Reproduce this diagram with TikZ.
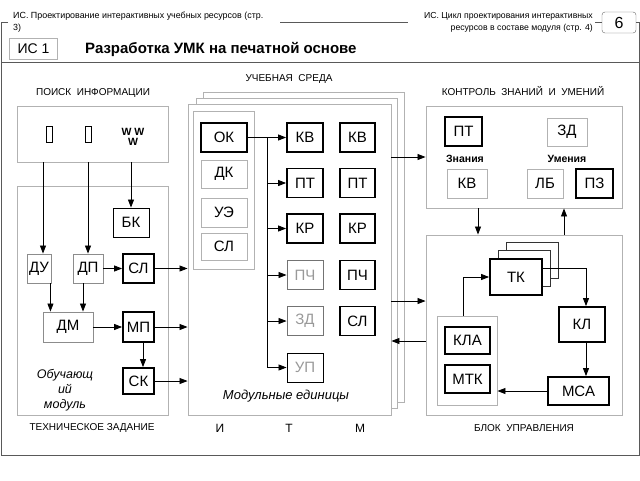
\documentclass[tikz,border=0pt]{standalone}
\usepackage{fontspec}
\setmainfont{Liberation Sans}
\usetikzlibrary{arrows.meta}

\begin{document}
\begin{tikzpicture}[x=1pt,y=-1pt,
	box/.style={draw,inner sep=0pt,minimum height=29pt,font=\fontsize{15}{15}\selectfont},
	hard/.style={box,line width=1.8pt},
	fine/.style={box,line width=0.9pt},
	soft/.style={box,draw=black!30,line width=0.9pt},
	dim/.style={text=black!40},
	pane/.style={draw=black!30,inner sep=0pt,line width=0.9pt},
	sheet/.style={draw=black!30,fill=white,inner sep=0pt,line width=0.9pt},
	arr/.style={-{Triangle[length=8pt,width=6pt]},line width=0.8pt},
	head/.style={font=\fontsize{10}{10}\selectfont},
	frame/.style={draw=black!65,line width=0.9pt}]
	\useasboundingbox (0,0) rectangle (640,480);
	
	%HEADER
	\draw[frame] (8,22) -- (1,22) -- (1,455) -- (639,455) -- (639,22) -- (636,22);
	\draw[frame] (280,22) -- (408,22);
	\draw[frame] (595,22) -- (602,22);
	\draw[frame] (1,62) -- (639,62);
	\node[anchor=north west,align=left,inner sep=0pt,font=\fontsize{8.9}{12}\selectfont] (hl) at (13,12) {ИС. Проектирование интерактивных учебных ресурсов (стр.\\3)};
	\node[anchor=north east,align=right,inner sep=0pt,font=\fontsize{8.7}{12}\selectfont] (hr) at (593,12) {ИС. Цикл проектирования интерактивных\\ресурсов в составе модуля (стр. 4)};
	\node[draw=black!60,rounded corners=3pt,minimum width=34pt,minimum height=21pt,inner sep=0pt,font=\fontsize{16}{16}\selectfont] (pg) at (619,22.5) {6};
	\node[pane,minimum width=48pt,minimum height=21pt,font=\fontsize{14}{14}\selectfont] (is) at (33.5,48.5) {ИС 1};
	\node[anchor=west,inner sep=0pt,font=\bfseries\fontsize{15}{15}\selectfont] (ttl) at (85,49) {Разработка УМК на печатной основе};
	
	%SEARCH AND TASK
	\node[head] (srcht) at (93,93) {ПОИСК\ \ ИНФОРМАЦИИ};
	\node[pane,minimum width=151pt,minimum height=56pt] (srch) at (92.5,134) {};
	\node[draw,line width=0.8pt,minimum width=6pt,minimum height=16pt,inner sep=0pt] (ic1) at (49,134) {};
	\node[draw,line width=0.8pt,minimum width=6pt,minimum height=16pt,inner sep=0pt] (ic2) at (88,134) {};
	\node[align=center,inner sep=0pt,font=\bfseries\fontsize{10.5}{10}\selectfont] (www) at (133,137) {W W\\W};
	\node[pane,minimum width=151pt,minimum height=229pt] (tz) at (92.5,300.5) {};
	\node[fine,minimum width=36pt] (bk) at (131,222.5) {БК};
	\node[soft,draw=black!45,minimum width=24pt] (du) at (39,268.5) {ДУ};
	\node[soft,draw=black!45,minimum width=30pt] (dp) at (88,268.5) {ДП};
	\node[hard,minimum width=31pt] (sl1) at (138.5,268.5) {СЛ};
	\node[soft,draw=black!45,minimum width=50pt,minimum height=30pt] (dm) at (68,327) {ДМ};
	\node[hard,minimum width=31pt,minimum height=30pt] (mp) at (138.5,327) {МП};
	\node[hard,minimum width=31pt,minimum height=26pt] (sk) at (138.5,381) {СК};
	\node[align=center,font=\itshape\fontsize{12.5}{15}\selectfont] (om) at (65,390) {Обучающ\\ий\\модуль};
	\draw[arr] ([xshift=4pt]du.north |- srch.south) -- ([xshift=4pt]du.north);
	\draw[arr] (dp.north |- srch.south) -- (dp.north);
	\draw[arr] (bk.north |- srch.south) -- (bk.north);
	\draw[arr] ([xshift=-1pt]du.south east) -- ([xshift=-1pt]du.south east |- dm.north);
	\draw[arr] ([xshift=-5pt]dp.south) -- ([xshift=-5pt]dp.south |- dm.north);
	\draw[arr] (dp.east) -- (sl1.west);
	\draw[arr] (dm.east) -- (mp.west);
	\draw[arr] ([xshift=4.5pt]mp.south) -- ([xshift=4.5pt]mp.south |- sk.north);
	
	%LEARNING ENVIRONMENT
	\node[head] (ust) at (289,79) {УЧЕБНАЯ\ \ СРЕДА};
	\node[sheet,minimum width=201pt,minimum height=310pt] (back) at (303.5,247) {};
	\node[sheet,minimum width=201pt,minimum height=310pt] (mid) at (296.5,253) {};
	\node[sheet,minimum width=203pt,minimum height=311pt] (front) at (289.5,259.5) {};
	\node[pane,minimum width=61pt,minimum height=158pt] (col) at (223.5,190) {};
	\node[hard,minimum width=46pt] (ok) at (224,137.5) {ОК};
	\node[soft,minimum width=46pt,minimum height=28pt] (dk) at (224,174) {ДК};
	\node[soft,minimum width=46pt] (ue) at (224,212.5) {УЭ};
	\node[soft,minimum width=46pt,minimum height=27pt] (sl2) at (224,246.5) {СЛ};
	\node[hard,minimum width=36pt] (kv1) at (305,137.5) {КВ};
	\node[hard,minimum width=36pt] (pt1) at (305,183) {ПТ};
	\node[hard,minimum width=36pt] (kr1) at (305,228.5) {КР};
	\node[soft,draw=black!55,dim,minimum width=36pt] (pch1) at (305,275) {ПЧ};
	\node[soft,draw=black!55,dim,minimum width=36pt] (zd1) at (305,321) {ЗД};
	\node[fine,dim,minimum width=36pt] (up1) at (305,367.5) {УП};
	\node[fine,line width=1.2pt,minimum width=35pt] (kv2) at (357.5,137.5) {КВ};
	\node[fine,line width=1.2pt,minimum width=35pt] (pt2) at (357.5,183) {ПТ};
	\node[fine,line width=1.2pt,minimum width=35pt] (kr2) at (357.5,228.5) {КР};
	\node[fine,line width=1.6pt,minimum width=35pt] (pch2) at (357.5,275) {ПЧ};
	\node[fine,line width=1.6pt,minimum width=35pt] (sl3) at (357.5,321) {СЛ};
	\node[font=\itshape\fontsize{13}{13}\selectfont] (me) at (286,396) {Модульные единицы};
	\coordinate (fork) at (267,137.5);
	\draw[line width=1pt] (ok.east) -- (fork) -- (fork |- up1.west);
	\foreach \n in {kv1,pt1,kr1,pch1,zd1,up1}
		\draw[arr] (fork |- \n.west) -- (\n.west);
	\draw[arr] (sl1.east) -- (sl1.east -| front.west);
	\draw[arr] (mp.east) -- (mp.east -| front.west);
	\draw[arr] (sk.east) -- (sk.east -| front.west);
	
	%CONTROL
	\node[head] (kzt) at (523,91) {КОНТРОЛЬ\ \ ЗНАНИЙ\ \ И\ \ УМЕНИЙ};
	\node[pane,minimum width=196pt,minimum height=102pt] (ctrl) at (524,157) {};
	\node[hard,minimum width=37pt] (pt3) at (463.5,131.5) {ПТ};
	\node[soft,minimum width=40pt,minimum height=28pt] (zd3) at (567,132) {ЗД};
	\node[font=\bfseries\fontsize{10.5}{10}\selectfont] (zn) at (465,159) {Знания};
	\node[font=\bfseries\fontsize{10.5}{10}\selectfont] (um) at (567,159) {Умения};
	\node[soft,minimum width=40pt] (kv3) at (467,183.5) {КВ};
	\node[soft,minimum width=36pt] (lb) at (545,183.5) {ЛБ};
	\node[hard,minimum width=37pt] (pz) at (594.5,183.5) {ПЗ};
	
	%CONTROL BLOCK
	\node[pane,minimum width=196pt,minimum height=180pt] (blk) at (524,325) {};
	\node[sheet,draw=black!80,minimum width=52pt,minimum height=36pt] (tkb) at (532,260) {};
	\node[sheet,draw=black!80,minimum width=52pt,minimum height=36pt] (tkm) at (524,268.5) {};
	\node[hard,fill=white,minimum width=52pt,minimum height=36pt] (tk) at (516,277) {ТК};
	\node[hard,minimum width=46pt,minimum height=35pt] (kl) at (582,324.5) {КЛ};
	\node[hard,minimum width=61pt,minimum height=28pt] (msa) at (578.5,391) {МСА};
	\node[pane,minimum width=60pt,minimum height=89pt] (cont) at (467,360.5) {};
	\node[hard,minimum width=45pt,minimum height=27pt] (kla) at (467.5,340.5) {КЛА};
	\node[hard,minimum width=45pt,minimum height=28pt] (mtk) at (467.5,379) {МТК};
	\draw[arr] ([xshift=-4pt]cont.north) |- (tk.west);
	\draw[arr] ([yshift=9pt]tk.east) -| ([xshift=4pt]kl.north);
	\draw[arr] ([xshift=4pt]kl.south) -- ([xshift=4pt]kl.south |- msa.north);
	\draw[arr] (msa.west) -- (msa.west -| cont.east);
	\node[head] (bu) at (524,428) {БЛОК\ \ УПРАВЛЕНИЯ};
	
	%LINKS
	\draw[arr] (front.east |- ctrl.west) -- (ctrl.west);
	\draw[arr] ([yshift=24pt]front.east |- blk.west) -- ([yshift=24pt]blk.west);
	\draw[arr] ([yshift=-16pt]blk.west) -- ([yshift=-16pt]front.east |- blk.west);
	\draw[arr] ([xshift=-46pt]ctrl.south) -- ([xshift=-46pt]ctrl.south |- blk.north);
	\draw[arr] ([xshift=40pt]blk.north) -- ([xshift=40pt]blk.north |- ctrl.south);
	
	%BOTTOM LABELS
	\node[head] (tzt) at (92,428) {ТЕХНИЧЕСКОЕ ЗАДАНИЕ};
	\node[font=\fontsize{12}{12}\selectfont] (li) at (220,428) {И};
	\node[font=\fontsize{12}{12}\selectfont] (lt) at (289,428) {Т};
	\node[font=\fontsize{12}{12}\selectfont] (lm) at (360,428) {М};
\end{tikzpicture}
\end{document}
